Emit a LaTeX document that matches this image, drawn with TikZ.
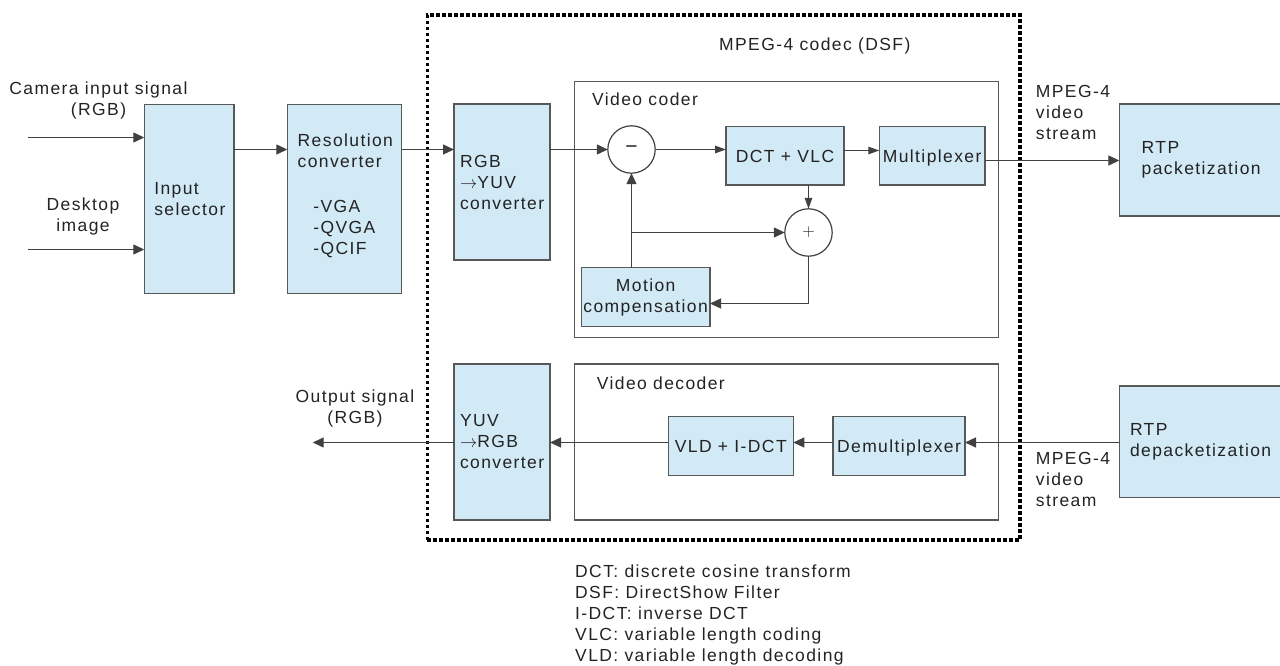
\documentclass[tikz,border=0pt]{standalone}
\usepackage{fontspec}
\setmainfont{Liberation Sans}[LetterSpace=8]
\usetikzlibrary{arrows.meta,calc}
\hyphenpenalty=10000
\exhyphenpenalty=10000
\definecolor{boxfill}{RGB}{210,233,246}
\definecolor{edgegray}{RGB}{88,88,88}
\definecolor{linegray}{RGB}{65,65,65}
\definecolor{inkc}{RGB}{35,35,35}
\tikzset{
  lbl/.style={font=\fontsize{17.5}{21}\selectfont, text=inkc, inner sep=0pt},
  blk/.style={rectangle, draw=edgegray, fill=boxfill, line width=1.3pt,
    font=\fontsize{17.5}{21}\selectfont, text=inkc, inner ysep=0pt, outer sep=0pt},
  lblk/.style={blk, align=left},
  cblk/.style={blk, inner xsep=1pt, text height=12.5pt, text depth=0pt},
  frame/.style={rectangle, draw=edgegray, line width=1.2pt, inner sep=0pt, outer sep=0pt},
  sumnode/.style={circle, draw=linegray, fill=white, line width=1.2pt, minimum size=47.4pt,
    inner sep=0pt, outer sep=0pt, text=inkc},
  conn/.style={draw=linegray, line width=1.3pt},
  arr/.style={conn, -{Triangle[length=11pt,width=10pt]}},
  arrn/.style={conn, -{Triangle[length=11pt,width=7.5pt]}},
}
\begin{document}
\begin{tikzpicture}[x=1pt,y=-1pt]
\useasboundingbox (0,0) rectangle (1280,666);

% DirectShow filter boundary and the coder / decoder frames
\node[draw=black, line width=3.3pt, dash pattern=on 3.3pt off 2.7pt, rectangle,
      minimum width=592.7pt, minimum height=525pt, inner sep=0pt] (codec) at (723.65,277.5) {};
\node[frame, minimum width=424pt, minimum height=256pt] (vcoder) at (786.3,209.7) {};
\node[frame, minimum width=424pt, minimum height=156pt] (vdecoder) at (786.3,442) {};

\node[lbl, anchor=base west] (codectitle) at (719,51) {MPEG-4 codec (DSF)};
\node[lbl, anchor=base west] (codertitle) at (592,106) {Video coder};
\node[lbl, anchor=base west] (decodertitle) at (596.7,389.3) {Video decoder};

% processing blocks
\node[lblk, inner xsep=10pt, text width=69.7pt, minimum height=189pt] (insel) at (189.15,198.8)
  {Input\\selector};
\node[lblk, inner xsep=10.4pt, text width=93.6pt, minimum height=189pt, text depth=118pt] (res) at (344.5,198.8)
  {Resolution\\converter\\[24pt]\hspace*{15.6pt}-VGA\\\hspace*{15.6pt}-QVGA\\\hspace*{15.6pt}-QCIF};
\node[lblk, inner xsep=6pt, text width=84pt, minimum height=156pt] (rgb) at (502,182)
  {RGB\\$\rightarrow$YUV\\converter};
\node[lblk, inner xsep=6pt, text width=84pt, minimum height=156pt] (yuv) at (502,442)
  {YUV\\$\rightarrow$RGB\\converter};

\node[sumnode, font=\fontsize{21}{21}\selectfont] (minus) at (631.5,149.5) {\char"2212};
\node[sumnode, font=\fontsize{17}{17}\selectfont] (plus) at (808.5,232.5) {$+$};

\node[cblk, minimum width=118pt, minimum height=58.3pt] (dct) at (785,155.85) {DCT + VLC};
\node[cblk, minimum width=105.7pt, minimum height=58.3pt] (mux) at (932.15,155.85) {Multiplexer};
\node[blk, align=center, inner xsep=1pt, minimum width=128.7pt, minimum height=59pt] (mc) at (645.65,297.2)
  {Motion\\compensation};

\node[cblk, minimum width=125pt, minimum height=59pt] (vld) at (730.8,446.2) {VLD + I-DCT};
\node[cblk, minimum width=132pt, minimum height=59pt] (demux) at (899,446.2) {Demultiplexer};

\node[lblk, inner xsep=22.4pt, text width=117.9pt, minimum height=112pt] (rtpp) at (1200.65,160)
  {RTP\\packetization};
\node[lblk, inner xsep=10.7pt, text width=141.3pt, minimum height=111.7pt] (rtpd) at (1200.65,441.85)
  {RTP\\depacketization};

% signal labels
\node[lbl, align=center, anchor=north] (camlbl) at (98.5,81.5) {Camera input signal\\(RGB)};
\node[lbl, align=center, anchor=north] (desklbl) at (83,197.5) {Desktop\\image};
\node[lbl, align=center, anchor=north] (outlbl) at (355,389.2) {Output signal\\(RGB)};
\node[lbl, align=left, anchor=north west] (txlbl) at (1035.7,85.2) {MPEG-4\\video\\stream};
\node[lbl, align=left, anchor=north west] (rxlbl) at (1035.7,452.5) {MPEG-4\\video\\stream};

% glossary
\node[lbl, align=left, anchor=north west] (glossary) at (575,564.8)
  {DCT: discrete cosine transform\\DSF: DirectShow Filter\\I-DCT: inverse DCT\\VLC: variable length coding\\VLD: variable length decoding};

% connector end points and levels
\coordinate (camin) at (28,137.5);
\coordinate (deskin) at (28,249.5);
\coordinate (outsig) at (312.7,442.5);
\coordinate (yin) at (0,149.5);
\coordinate (ymux) at (0,150.5);
\coordinate (ytx) at (0,160.5);
\coordinate (yfb) at (0,303.5);
\coordinate (yrx) at (0,442.5);

% input path
\draw[arr] (camin) -- (camin -| insel.west);
\draw[arr] (deskin) -- (deskin -| insel.west);
\draw[arr] (insel.east |- yin) -- (res.west |- yin);
\draw[arr] (res.east |- yin) -- (rgb.west |- yin);
\draw[arr] (rgb.east |- yin) -- (minus.west);

% coder loop
\draw[arrn] (minus.east) -- (minus.east -| dct.west);
\draw[arrn] (dct.east |- ymux) -- (mux.west |- ymux);
\draw[arrn] (plus.north |- dct.south) -- (plus.north);
\draw[arr] (minus.south |- mc.north) -- (minus.south);
\draw[arr] (minus.south |- plus.west) -- (plus.west);
\draw[arr] (plus.south) |- (mc.east |- yfb);
\draw[arr] (mux.east |- ytx) -- (rtpp.west |- ytx);

% decoder path
\draw[arr] (rtpd.west |- yrx) -- (demux.east |- yrx);
\draw[arr] (demux.west |- yrx) -- (vld.east |- yrx);
\draw[arr] (vld.west |- yrx) -- (yuv.east |- yrx);
\draw[arr] (yuv.west |- yrx) -- (outsig);
\end{tikzpicture}
\end{document}
